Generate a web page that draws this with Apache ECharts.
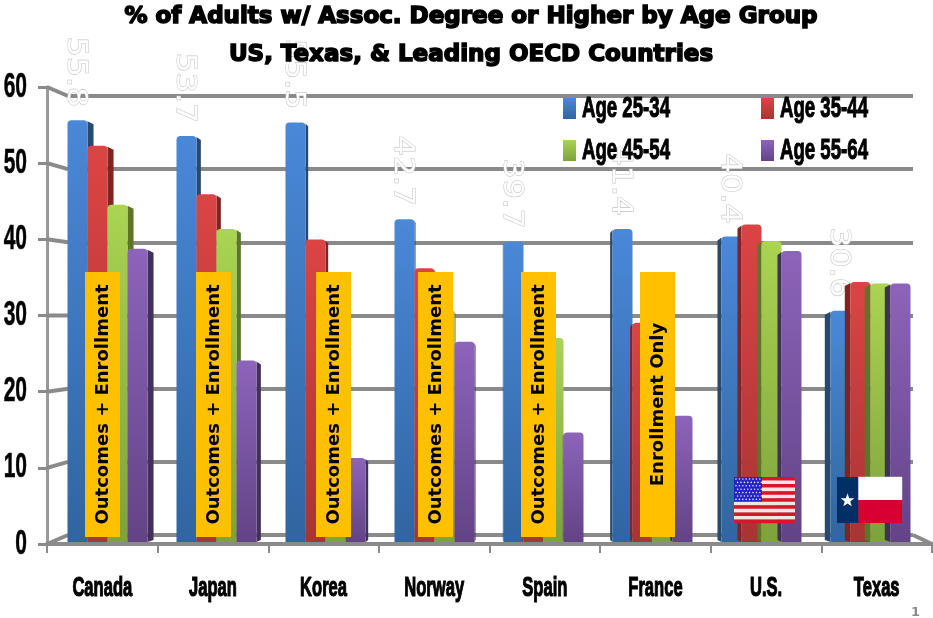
<!DOCTYPE html>
<html><head><meta charset="utf-8">
<style>html,body{margin:0;padding:0;background:#fff}#c{width:933px;height:618px}</style>
<script src="https://cdn.jsdelivr.net/npm/echarts@6/dist/echarts.min.js"></script>
</head><body><div id="c"></div>
<script>
const categories = ['Canada','Japan','Korea','Norway','Spain','France','U.S.','Texas'];
const yTicks = [0,10,20,30,40,50,60];
const age2534 = [55.8,53.7,55.5,42.7,39.7,41.4,40.4,30.6];
const age3544 = [52.4,46,40,36.2,30,29,42,34.4];
const age4554 = [44.6,41.4,19,30.7,27,20,39.8,34.2];
const age5564 = [38.8,24,11.1,26.5,14.5,16.7,38.5,34.2];
const seriesNames = ['Age 25-34','Age 35-44','Age 45-54','Age 55-64'];
const seriesValues = [age2534,age3544,age4554,age5564];
const boxTexts = ['Outcomes + Enrollment','Outcomes + Enrollment','Outcomes + Enrollment','Outcomes + Enrollment','Outcomes + Enrollment','Enrollment Only'];

const grad=(a,b)=>new echarts.graphic.LinearGradient(0,0,0,1,[{offset:0,color:a},{offset:1,color:b}]);
const colors=[['#4a88d8','#3065a0'],['#dc4444','#a83434'],['#aad452','#7ea23c'],['#8c64ba','#634386']];
const sides=['#27496f','#7f2323','#5c7628','#42305c'];
const LIB='"Liberation Sans",sans-serif';
const LINE='#8a8a8a';

function renderBar(s){
  return function(params,api){
    const i=api.value(0),v=api.value(1);
    const band=api.size([1,0])[0];
    const bw=band*0.1835;
    const base=api.coord([i,0]);
    const top=api.coord([i,v]);
    const x=base[0]+(s-2)*bw;
    const off=(500-base[0])/65;
    const h=base[1]-top[1];
    const sideX=off>0?x+bw:x;
    const fill=grad(colors[s][0],colors[s][1]);
    const ch=[
      {type:'polygon',shape:{points:[[sideX,top[1]+1],[sideX+off,top[1]+4],[sideX+off,base[1]-2],[sideX,base[1]]]},style:{fill:sides[s]}},
      {type:'rect',shape:{x:x,y:top[1],width:bw,height:h,r:[4,4,0,0]},style:{fill:fill}}
    ];
    if(s===0){
      ch.unshift({type:'text',x:x+bw/2-2,y:top[1]-13,rotation:-Math.PI/2,scaleX:1.17,
        style:{text:String(v.toFixed(1)),fill:'#fff',stroke:'#c4c4c4',lineWidth:1,
          font:'27px "DejaVu Sans"',align:'right',verticalAlign:'middle'}});
    }
    return {type:'group',children:ch};
  };
}

const backLeft=68, backRight=913, backTop=96, backBottom=535;
const frontLeft=47, frontRight=932, frontTop=87, frontBottom=544;

function renderDiagonal(params,api){
  const v=api.value(0);
  const p=api.coord([0,v]);
  const by=backBottom-(backBottom-backTop)*v/60;
  const ch=[{type:'line',shape:{x1:frontLeft,y1:p[1],x2:backLeft,y2:by},style:{stroke:LINE,lineWidth:4}}];
  if(v===0) ch.push({type:'line',shape:{x1:frontRight,y1:p[1],x2:backRight,y2:by},style:{stroke:LINE,lineWidth:4}});
  return {type:'group',children:ch};
}
function renderYLabel(params,api){
  const v=api.value(0);
  const p=api.coord([0,v]);
  return {type:'text',x:27,y:p[1],scaleX:0.7,scaleY:1.16,
    style:{text:String(v),fill:'#000',stroke:'#000',lineWidth:0.5,font:'bold 30px '+LIB,align:'right',verticalAlign:'middle'}};
}
function renderXLabel(params,api){
  const i=api.value(0);
  const p=api.coord([i,0]);
  return {type:'text',x:p[0],y:588,scaleX:0.72,scaleY:1.2,
    style:{text:categories[i],fill:'#000',stroke:'#000',lineWidth:1,font:'bold 23px '+LIB,align:'center',verticalAlign:'middle'}};
}

const series=seriesNames.map((n,s)=>({
  name:n,type:'custom',xAxisIndex:1,yAxisIndex:1,z:5+s,
  itemStyle:{color:colors[s][0]},
  renderItem:renderBar(s),
  data:categories.map((c,i)=>[i,seriesValues[s][i]]),
  encode:{x:0,y:1}
}));
series.push({type:'custom',xAxisIndex:0,yAxisIndex:0,z:3,silent:true,renderItem:renderDiagonal,
  data:yTicks.map(v=>[v]),encode:{y:0}});
series.push({type:'custom',xAxisIndex:0,yAxisIndex:0,z:4,silent:true,renderItem:renderYLabel,
  data:yTicks.map(v=>[v]),encode:{y:0}});
series.push({type:'custom',xAxisIndex:0,yAxisIndex:0,z:4,silent:true,renderItem:renderXLabel,
  data:categories.map((c,i)=>[i]),encode:{x:0}});

const legendPos=[[563,98],[761,98],[563,140],[761,140]];
const legends=seriesNames.map((n,s)=>({
  left:legendPos[s][0],top:legendPos[s][1],orient:'horizontal',
  data:[{name:n,icon:'rect',itemStyle:{color:grad(colors[s][0],colors[s][1])}}],
  formatter:()=>' ',
  itemWidth:13,itemHeight:21,itemGap:0,padding:0,z:20,
  textStyle:{fontSize:10,color:'#000'}
}));

const graphic=[];
seriesNames.forEach((n,s)=>{
  graphic.push({type:'text',z:26,x:legendPos[s][0]+19,y:legendPos[s][1]+11,scaleX:0.745,scaleY:1.2,
    style:{text:n,fill:'#000',stroke:'#000',lineWidth:0.9,font:'bold 25px '+LIB,align:'left',verticalAlign:'middle'}});
});
const boxX=[85,196,316,418,521,640];
boxTexts.forEach((t,i)=>{
  graphic.push({type:'rect',z:30,shape:{x:boxX[i],y:272,width:35,height:265},style:{fill:'#ffc000'}});
  graphic.push({type:'text',z:31,x:boxX[i]+18,y:404.5,rotation:Math.PI/2,
    style:{text:t,fill:'#000',font:'bold 18px "DejaVu Sans"',align:'center',verticalAlign:'middle'}});
});
// U.S. flag
for(let k=0;k<13;k++){
  graphic.push({type:'rect',z:32,shape:{x:734,y:477+k*46/13,width:61,height:46/13+0.3},style:{fill:k%2?'#f4e4e4':'#d8162a'}});
}
graphic.push({type:'rect',z:33,shape:{x:734,y:477,width:28,height:24.5},style:{fill:'#2424c4'}});
for(let r=0;r<7;r++)for(let c=0;c<8;c++){
  graphic.push({type:'circle',z:34,shape:{cx:736+c*3.4+(r%2?1.6:0),cy:479+r*3.4,r:0.8},style:{fill:'#e6e6ff'}});
}
// Texas flag
graphic.push({type:'rect',z:32,shape:{x:837,y:477,width:21.5,height:46},style:{fill:'#002f66'}});
graphic.push({type:'rect',z:32,shape:{x:858.5,y:477,width:43.5,height:23},style:{fill:'#ffffff',stroke:'#e8e8e8',lineWidth:0.5}});
graphic.push({type:'rect',z:32,shape:{x:858.5,y:500,width:43.5,height:23},style:{fill:'#d60032'}});
const star=[];
for(let k=0;k<10;k++){const a=-Math.PI/2+k*Math.PI/5,r=k%2?2.9:7.2;star.push([847.5+r*Math.cos(a),500.5+r*Math.sin(a)]);}
graphic.push({type:'polygon',z:33,shape:{points:star},style:{fill:'#fff'}});
graphic.push({type:'text',z:33,x:911,y:606,style:{text:'1',fill:'#8c8c8c',font:'bold 13px "DejaVu Sans"'}});

const option={
  animation:false,backgroundColor:'#fff',
  title:{text:'% of Adults w/ Assoc. Degree or Higher by Age Group\nUS, Texas, & Leading OECD Countries',
    left:471,textAlign:'center',top:-2,z:25,padding:0,
    textStyle:{fontFamily:'"DejaVu Sans"',fontWeight:'bold',fontSize:23,lineHeight:38,color:'#000',textBorderColor:'#000',textBorderWidth:1.6}},
  legend:legends,
  grid:[
    {left:frontLeft,top:frontTop,width:frontRight-frontLeft,height:frontBottom-frontTop},
    {left:53,top:88.4,width:872,height:453.6},
    {left:backLeft,top:backTop,width:backRight-backLeft,height:backBottom-backTop}
  ],
  xAxis:[
    {gridIndex:0,type:'category',data:categories,axisLine:{lineStyle:{color:LINE,width:4}},
      axisTick:{show:true,alignWithLabel:false,length:9,lineStyle:{color:LINE,width:2}},
      axisLabel:{show:false}},
    {gridIndex:1,type:'category',data:categories,show:false},
    {gridIndex:2,type:'category',data:categories,show:false}
  ],
  yAxis:[
    {gridIndex:0,type:'value',min:0,max:60,interval:10,splitLine:{show:false},
      axisLine:{show:true,lineStyle:{color:'#999',width:3}},
      axisTick:{show:true,length:9,lineStyle:{color:LINE,width:3}},
      axisLabel:{show:false}},
    {gridIndex:1,type:'value',min:0,max:60,interval:10,show:false,splitLine:{show:false}},
    {gridIndex:2,type:'value',min:0,max:60,interval:10,axisLine:{show:false},axisTick:{show:false},axisLabel:{show:false},
      splitLine:{show:true,lineStyle:{color:LINE,width:4}}}
  ],
  series:series,
  graphic:{elements:graphic}
};
echarts.init(document.getElementById('c'),null,{renderer:'canvas'}).setOption(option);
</script></body></html>
